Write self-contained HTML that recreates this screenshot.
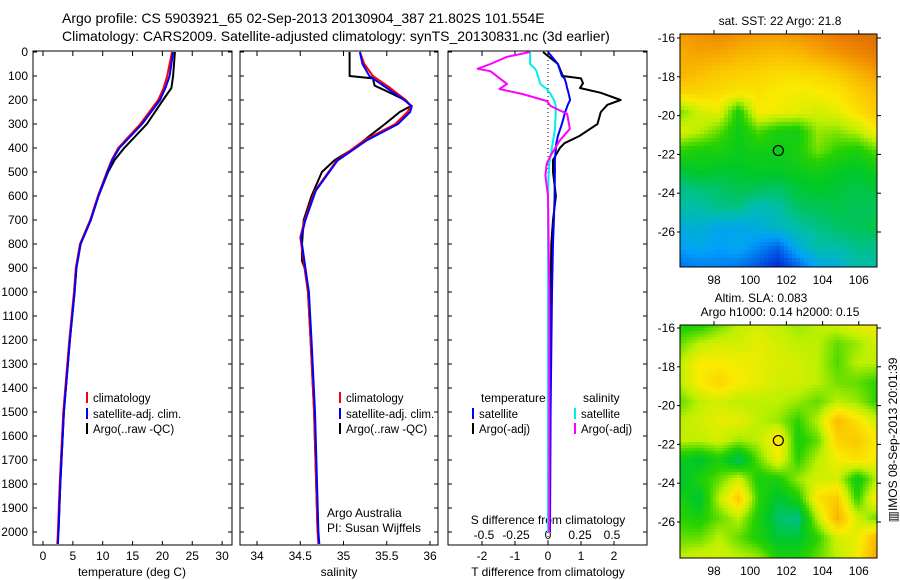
<!DOCTYPE html>
<html><head><meta charset="utf-8"><style>
html,body{margin:0;padding:0;background:#fff;}
svg{display:block;font-family:"Liberation Sans",sans-serif;}
text{font-size:12px;fill:#000;}
</style></head><body>
<svg id="fig" width="900" height="580" viewBox="0 0 900 580" xmlns="http://www.w3.org/2000/svg">
<text x="62" y="23" style="font-size:14px">Argo profile: CS 5903921_65 02-Sep-2013 20130904_387 21.802S 101.554E</text>
<text x="62" y="41" style="font-size:14px">Climatology: CARS2009. Satellite-adjusted climatology: synTS_20130831.nc (3d earlier)</text>
<g id="layer"></g>
</svg>
<script>
// ---------- data ----------
const depthTicks=[0,100,200,300,400,500,600,700,800,900,1000,1100,1200,1300,1400,1500,1600,1700,1800,1900,2000];
const tTicks=[0,5,10,15,20,25,30];
const sTicks=[34,34.5,35,35.5,36];
const dTTicks=[-2,-1,0,1,2];
const dSTicks=[-0.5,-0.25,0,0.25,0.5];
const tDepth=[0,100,150,200,300,400,450,500,600,700,800,900,1000,1200,1500,1800,2000,2050];
const tClim=[21.6,20.8,20.2,19.3,16.3,12.6,11.5,10.7,9.2,7.9,6.2,5.5,5.2,4.4,3.4,2.8,2.5,2.4];
const tSat=[21.8,21.2,20.5,19.6,16.6,12.8,11.6,10.8,9.3,8.0,6.3,5.6,5.3,4.5,3.5,2.9,2.6,2.5];
const tArgoDepth=[0,100,150,200,300,400,450,500,600,700,800,900,1000,1200,1500,1800,2000];
const tArgo=[22.1,21.8,21.5,20.1,17.4,13.6,12.0,10.9,9.3,8.0,6.3,5.6,5.3,4.5,3.5,2.9,2.6];
const sDepth=[0,50,100,150,200,225,250,300,370,453,578,700,773,900,1000,1200,1500,2000,2050];
const sClim=[35.19,35.24,35.34,35.54,35.72,35.78,35.74,35.6,35.23,34.92,34.67,34.55,34.5,34.55,34.59,34.62,34.66,34.7,34.71];
const sSat=[35.19,35.22,35.3,35.5,35.7,35.79,35.77,35.63,35.26,34.93,34.68,34.56,34.51,34.56,34.6,34.63,34.67,34.71,34.72];
const sArgoDepth=[0,100,110,140,160,200,225,250,300,350,400,450,500,600,700,800,870,900,1000,1200,1500,2000];
const sArgo=[35.07,35.07,35.34,35.36,35.48,35.71,35.78,35.65,35.48,35.3,35.13,34.9,34.75,34.63,34.54,34.52,34.52,34.55,34.59,34.62,34.66,34.7];
const dDepth=[0,50,100,110,130,150,170,200,220,250,300,350,380,400,450,500,600,700,800,1000,1500,2000];
const dTArgo=[-0.15,0.3,0.45,1.0,1.06,0.97,1.6,2.2,1.8,1.6,1.5,0.95,0.5,0.36,0.15,0.15,0.24,0.15,0.1,0.08,0.06,0.05];
const dTSat=[0,0.3,0.42,0.5,0.55,0.58,0.62,0.67,0.6,0.52,0.42,0.3,0.25,0.24,0.21,0.21,0.2,0.18,0.15,0.12,0.08,0.06];
const dSDepth=[0,20,50,70,80,133,154,175,204,225,258,320,370,432,465,515,600,1000,2000];
const dSSat=[-0.14,-0.14,-0.14,-0.1,-0.09,-0.06,-0.01,0.02,0.05,0.06,0.06,0.055,0.04,0.02,0.01,0.005,0.0,0.0,0.0];
const dSArgo=[-0.14,-0.32,-0.45,-0.55,-0.45,-0.32,-0.38,-0.2,-0.01,0.02,0.15,0.17,0.09,0.02,-0.01,-0.02,0.0,0.01,0.01];
const sstGrid=[
[.8,.82,.84,.82,.8,.8,.82,.84,.87,.89,.9],
[.77,.79,.78,.76,.75,.74,.75,.78,.81,.84,.87],
[.76,.74,.72,.71,.7,.69,.69,.7,.72,.76,.8],
[.7,.7,.69,.67,.68,.66,.65,.66,.67,.71,.74],
[.56,.62,.64,.5,.66,.65,.64,.62,.64,.68,.72],
[.63,.6,.55,.48,.54,.5,.49,.58,.57,.6,.66],
[.52,.5,.5,.48,.49,.48,.5,.56,.52,.5,.55],
[.45,.47,.46,.46,.47,.47,.48,.49,.47,.46,.48],
[.4,.41,.42,.44,.43,.42,.45,.46,.45,.44,.45],
[.38,.38,.4,.4,.36,.38,.42,.43,.44,.43,.43],
[.32,.33,.3,.3,.32,.35,.38,.4,.42,.43,.44],
[.28,.3,.28,.3,.25,.2,.32,.38,.38,.4,.4],
[.22,.24,.24,.22,.18,.12,.2,.3,.32,.38,.38]];
const slaGrid=[
[.5,.5,.55,.6,.62,.6,.58,.6,.62,.65,.65],
[.55,.6,.62,.62,.64,.62,.6,.6,.55,.58,.62],
[.6,.66,.66,.65,.64,.63,.62,.6,.54,.6,.6],
[.6,.66,.7,.66,.64,.62,.62,.6,.56,.55,.52],
[.55,.6,.62,.6,.6,.6,.58,.55,.6,.58,.52],
[.6,.62,.64,.64,.6,.58,.52,.6,.74,.68,.62],
[.6,.6,.62,.58,.6,.68,.5,.55,.7,.72,.66],
[.48,.45,.5,.42,.55,.65,.52,.6,.65,.68,.65],
[.45,.5,.55,.62,.5,.5,.58,.62,.62,.48,.6],
[.5,.45,.6,.72,.52,.45,.5,.68,.72,.52,.68],
[.52,.5,.55,.6,.5,.42,.4,.6,.76,.62,.55],
[.55,.55,.6,.55,.5,.45,.45,.52,.62,.64,.75],
[.6,.62,.62,.6,.58,.5,.5,.55,.6,.65,.78]];
const lonTicks=[98,100,102,104,106];
const latTicks=[-16,-18,-20,-22,-24,-26];
const floatLon=[101.554];
const floatLat=[-21.802];

// ---------- helpers ----------
const NS="http://www.w3.org/2000/svg";
const L=document.getElementById('layer');
function mk(tag,at,parent){const e=document.createElementNS(NS,tag);for(const k in at)e.setAttribute(k,at[k]);(parent||L).appendChild(e);return e;}
function txt(x,y,s,anchor,extra){const e=mk('text',Object.assign({x:x,y:y,'text-anchor':anchor||'start'},extra||{}));e.textContent=s;return e;}
const yD=d=>52+d*0.24;
const PY0=52,PY1=545;
const xT=t=>43+t*5.97;
const xS=s=>257+(s-34)*86.5;
const xDT=t=>548+t*33;
const xDS=s=>548+s*128;
function frame(x0,x1,name){
  const r=mk('rect',{x:x0,y:PY0-1,width:x1-x0,height:PY1-PY0+1,fill:'none',stroke:'#000','stroke-width':1});
  
  
  depthTicks.forEach(d=>{
    mk('line',{x1:x0,x2:x0+4,y1:yD(d),y2:yD(d),stroke:'#000'});
    mk('line',{x1:x1-4,x2:x1,y1:yD(d),y2:yD(d),stroke:'#000'});
  });
}
function xticks(vals,fx,labels,ly){
  vals.forEach((v,i)=>{const x=fx(v);
    mk('line',{x1:x,x2:x,y1:PY0-1,y2:PY0+4,stroke:'#000'});
    mk('line',{x1:x,x2:x,y1:PY1-4,y2:PY1,stroke:'#000'});
    if(labels){const t=txt(x,ly,labels[i],'middle');
      
      }
  });
}
function line(xs,ds,fx,color,name,w){
  const pts=xs.map((v,i)=>fx(v).toFixed(1)+','+yD(ds[i]).toFixed(1)).join(' ');
  const p=mk('polyline',{points:pts,fill:'none',stroke:color,'stroke-width':w||2,'stroke-linejoin':'round'});
  
  
}
function legendEntry(x,y,color,label){
  const g=mk('g',{});
  
  
  mk('line',{x1:x,x2:x,y1:y-10,y2:y+1,stroke:color,'stroke-width':2},g);
  const t=mk('text',{x:x+6,y:y,style:'font-size:11.5px'},g);t.textContent=label;
}

// depth labels
depthTicks.forEach(d=>{const t=txt(28,yD(d)+4,String(d),'end');
  
  });

// panel 1 temperature
frame(33,232,'temperature-panel');
xticks(tTicks,xT,tTicks.map(String),560);
const tl=txt(132,576,'temperature (deg C)','middle');
line(tArgo,tArgoDepth,xT,'#000','temperature-argo');
line(tClim,tDepth,xT,'#f00','temperature-climatology');
line(tSat,tDepth,xT,'#00f','temperature-satellite');
legendEntry(87,402,'#f00','climatology');
legendEntry(87,418,'#00f','satellite-adj. clim.');
legendEntry(87,433,'#000','Argo(..raw -QC)');

// panel 2 salinity
frame(240,438,'salinity-panel');
xticks(sTicks,xS,['34','34.5','35','35.5','36'],560);
const sl=txt(339,576,'salinity','middle');
line(sArgo,sArgoDepth,xS,'#000','salinity-argo');
line(sClim,sDepth,xS,'#f00','salinity-climatology');
line(sSat,sDepth,xS,'#00f','salinity-satellite');
legendEntry(340,402,'#f00','climatology');
legendEntry(340,418,'#00f','satellite-adj. clim.');
legendEntry(340,433,'#000','Argo(..raw -QC)');
txt(327,517,'Argo Australia');
txt(327,532,'PI: Susan Wijffels');

// panel 3 differences
frame(448,647,'difference-panel');
xticks(dTTicks,xDT,dTTicks.map(String),560);
dSTicks.forEach(v=>{const t=txt(xDS(v),539,String(v),'middle');
  });
const dl=txt(548,576,'T difference from climatology','middle');
const sdl=txt(548,524,'S difference from climatology','middle');
mk('line',{x1:548,x2:548,y1:PY0,y2:PY1,stroke:'#000','stroke-dasharray':'1,3'});
line(dTArgo,dDepth,xDT,'#000','t-diff-argo');
line(dTSat,dDepth,xDT,'#00f','t-diff-satellite');
line(dSSat,dSDepth,xDS,'#0ee','s-diff-satellite');
line(dSArgo,dSDepth,xDS,'#f0f','s-diff-argo');
txt(481,402,'temperature');
legendEntry(473,418,'#00f','satellite');
legendEntry(473,433,'#000','Argo(-adj)');
txt(583,402,'salinity');
legendEntry(575,418,'#0ee','satellite');
legendEntry(575,433,'#f0f','Argo(-adj)');

// ---------- maps ----------
const cmapStops=[[0,[0,0,140]],[0.15,[0,60,220]],[0.28,[0,160,250]],[0.38,[0,190,170]],[0.46,[0,200,40]],[0.52,[40,210,0]],[0.6,[190,240,0]],[0.66,[250,235,0]],[0.74,[250,190,0]],[0.84,[240,135,0]],[1,[190,70,0]]];
function cmap(v){v=Math.max(0,Math.min(1,v));
  for(let i=1;i<cmapStops.length;i++){if(v<=cmapStops[i][0]){const a=cmapStops[i-1],b=cmapStops[i];const f=(v-a[0])/(b[0]-a[0]);
    return 'rgb('+a[1].map((c,k)=>Math.round(c+(b[1][k]-c)*f)).join(',')+')';}}
  return 'rgb(190,70,0)';}
function sample(grid,lon,lat){
  const c=(lon-96.1)/(107.0-96.1)*(grid[0].length-1);
  const r=(-16+0.2-lat)/(27.8-15.8)*(grid.length-1);
  const c0=Math.max(0,Math.min(grid[0].length-2,Math.floor(c))),r0=Math.max(0,Math.min(grid.length-2,Math.floor(r)));
  const fc=Math.max(0,Math.min(1,c-c0)),fr=Math.max(0,Math.min(1,r-r0));
  return grid[r0][c0]*(1-fc)*(1-fr)+grid[r0][c0+1]*fc*(1-fr)+grid[r0+1][c0]*(1-fc)*fr+grid[r0+1][c0+1]*fc*fr;
}
function map(top,lat16y,grid,cell,name){
  const X0=680,X1=877,Y0=top,Y1=top+233;
  const lonX=lo=>714+(lo-98)*18.1;
  const latY=la=>lat16y+(-16-la)*19.4;
  const g=mk('g',{});
  
  
  for(let y=Y0;y<Y1;y+=cell){for(let x=X0;x<X1;x+=cell){
    const lo=98+(x+cell/2-714)/18.1, la=-16-(y+cell/2-lat16y)/19.4;
    mk('rect',{x:x,y:y,width:Math.min(cell,X1-x)+0.3,height:Math.min(cell,Y1-y)+0.3,fill:cmap(sample(grid,lo,la))},g);
  }}
  mk('rect',{x:X0,y:Y0,width:X1-X0,height:Y1-Y0,fill:'none',stroke:'#000'},g);
  lonTicks.forEach(lo=>{const x=lonX(lo);
    mk('line',{x1:x,x2:x,y1:Y0-4,y2:Y0,stroke:'#000'},g);
    const t=txt(x,Y1+17,String(lo),'middle');});
  latTicks.forEach(la=>{const y=latY(la);
    mk('line',{x1:X1,x2:X1+4,y1:y,y2:y,stroke:'#000'},g);
    mk('line',{x1:X0-3,x2:X0,y1:y,y2:y,stroke:'#000'},g);
    const t=txt(X0-5,y+4,String(la),'end');});
  const c=mk('circle',{cx:lonX(floatLon[0]),cy:latY(floatLat[0]),r:5,fill:'none',stroke:'#000','stroke-width':1.2});
  
  
}
map(34,38,sstGrid,4,'sst-map');
map(325,328,slaGrid,3,'sla-map');
const t1=txt(780,25,'sat. SST: 22 Argo: 21.8','middle');
const t2=txt(761,302,'Altim. SLA: 0.083','middle');
const t3=txt(780,316,'Argo h1000: 0.14 h2000: 0.15','middle');
const t4=txt(0,0,'\u25A5IMOS 08-Sep-2013 20:01:39','middle',{transform:'translate(897,440) rotate(-90)'});


</script>
</body></html>
